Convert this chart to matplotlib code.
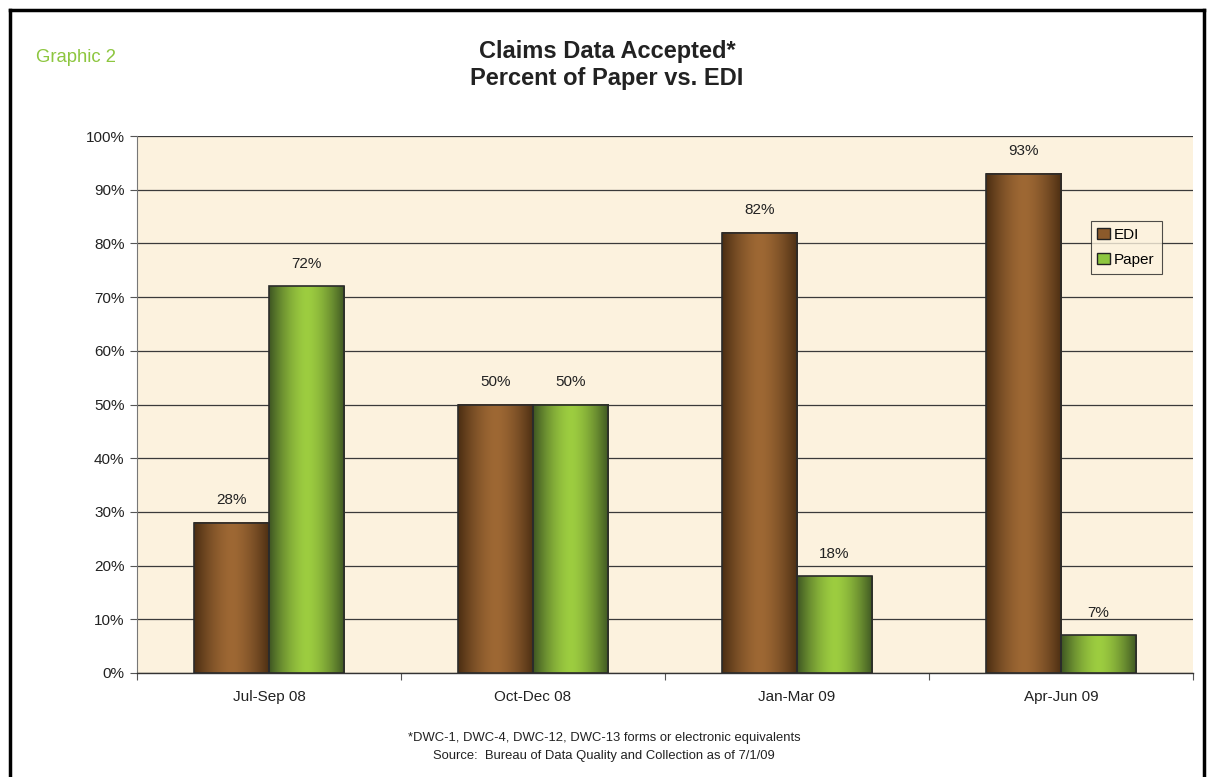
import matplotlib
matplotlib.use("Agg")
import matplotlib.pyplot as plt
import numpy as np
from matplotlib.patches import Patch
from matplotlib.lines import Line2D
from matplotlib.colors import to_rgb

plt.rcParams['font.family'] = ['Liberation Sans', 'DejaVu Sans']

categories = ["Jul-Sep 08", "Oct-Dec 08", "Jan-Mar 09", "Apr-Jun 09"]
edi = [28, 50, 82, 93]
paper = [72, 50, 18, 7]
series_names = ["EDI", "Paper"]
title = "Claims Data Accepted*\nPercent of Paper vs. EDI"
yticks = [0, 10, 20, 30, 40, 50, 60, 70, 80, 90, 100]

W, H = 1213, 777
fig = plt.figure(figsize=(W / 100, H / 100), dpi=100)
fig.patch.set_facecolor("white")

ax = fig.add_axes([137 / W, 1 - 673 / H, (1193 - 137) / W, (673 - 136) / H])
ax.set_facecolor("#FCF2DE")

bw = 0.285
x = np.arange(len(categories))

def gradient_bars(xs, vals, edge_col, mid_col, label):
    bars = ax.bar(xs, vals, width=bw, facecolor="none", edgecolor="#2b2b2b",
                  linewidth=1.2, zorder=4, label=label)
    e = np.array(to_rgb(edge_col))
    m = np.array(to_rgb(mid_col))
    t = np.linspace(-1, 1, 200)
    w = np.clip(np.abs(t) ** 1.6, 0, 1)
    grad = (m[None, :] * (1 - w[:, None]) + e[None, :] * w[:, None])[None, :, :]
    for b in bars:
        x0 = b.get_x()
        ax.imshow(grad, extent=[x0, x0 + b.get_width(), 0, b.get_height()],
                  aspect="auto", zorder=3, interpolation="bilinear")
    return bars

b1 = gradient_bars(x - bw / 2, edi, "#4a2d12", "#9e6834", "EDI")
b2 = gradient_bars(x + bw / 2, paper, "#3d5522", "#9dcd40", "Paper")

for bars in (b1, b2):
    for b in bars:
        ax.text(b.get_x() + b.get_width() / 2, b.get_height() + 2.9,
                f"{b.get_height():.0f}%", ha="center", va="bottom",
                fontsize=11, color="#222222", zorder=5)

ax.set_xlim(-0.5, len(categories) - 0.5)
ax.set_ylim(0, 100)
ax.set_yticks(yticks)
ax.set_yticklabels([f"{v}%" for v in yticks], fontsize=11, color="#222222")
ax.yaxis.grid(True, color="#3a3a3a", linewidth=0.9, zorder=1)
ax.set_axisbelow(True)

ax.set_xticks(np.arange(len(categories) + 1) - 0.5)
ax.set_xticklabels([])
ax.set_xticks(x, minor=True)
ax.set_xticklabels(categories, minor=True, fontsize=11, color="#222222")
ax.tick_params(axis="x", which="minor", length=0, pad=12)
ax.tick_params(axis="x", which="major", length=5, color="#555555", direction="out")
ax.tick_params(axis="y", length=5, color="#555555", pad=4)

for s in ["top", "right"]:
    ax.spines[s].set_visible(False)
ax.spines["left"].set_color("#777777")
ax.spines["bottom"].set_color("#333333")
ax.spines["bottom"].set_linewidth(1.0)

handles = [Patch(facecolor="#8b5a2b", edgecolor="#222222", label=series_names[0]),
           Patch(facecolor="#8dc63f", edgecolor="#222222", label=series_names[1])]
leg = ax.legend(handles=handles, loc="upper left", bbox_to_anchor=(0.903, 0.842),
                borderaxespad=0, fontsize=11, frameon=True, fancybox=False,
                handlelength=0.8, handleheight=0.8, handletextpad=0.3,
                borderpad=0.45, labelspacing=0.7)
leg.get_frame().set_edgecolor("#222222")
leg.get_frame().set_facecolor("#FCF2DE")
leg.get_frame().set_linewidth(0.8)
leg.set_zorder(6)

fig.text(607 / W, 1 - 65 / H, title, ha="center", va="center",
         fontsize=17, fontweight="bold", color="#222222", linespacing=1.2)
fig.text(36 / W, 1 - 57 / H, "Graphic 2", ha="left", va="center",
         fontsize=13.3, color="#8dc63f")
fig.text(604 / W, 1 - 738 / H, "*DWC-1, DWC-4, DWC-12, DWC-13 forms or electronic equivalents",
         ha="center", va="center", fontsize=9.4, color="#222222")
fig.text(604 / W, 1 - 756 / H, "Source:  Bureau of Data Quality and Collection as of 7/1/09",
         ha="center", va="center", fontsize=9.4, color="#222222")

# outer frame (open at bottom)
for xs, ys in [([9.5, 9.5], [H + 5, 9.5]), ([9.5, 1204], [9.5, 9.5]), ([1204, 1204], [9.5, H + 5])]:
    fig.add_artist(Line2D([v / W for v in xs], [1 - v / H for v in ys],
                          color="black", linewidth=2.5, transform=fig.transFigure))

fig.savefig("out.png", dpi=100, facecolor="white")
